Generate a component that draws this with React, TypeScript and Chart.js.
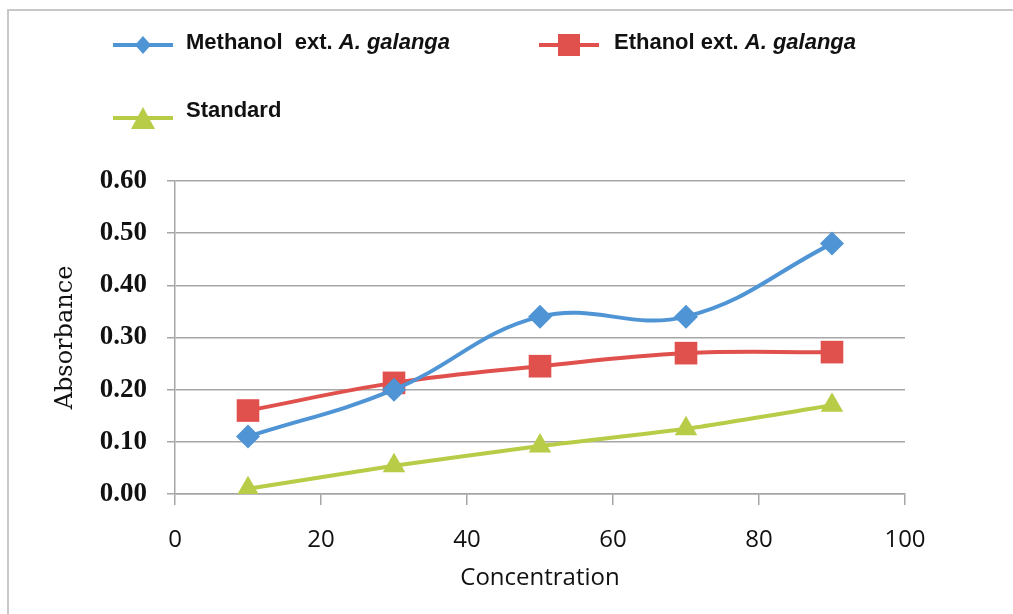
import React, { useEffect, useRef } from "react";
import { Chart, registerables } from "chart.js";

Chart.register(...registerables);

// ---- data ----
const concentrations = [10, 30, 50, 70, 90];
const methanolValues = [0.11, 0.2, 0.34, 0.34, 0.48];
const ethanolValues = [0.16, 0.213, 0.245, 0.27, 0.272];
const standardValues = [0.01, 0.054, 0.092, 0.125, 0.17];

const seriesNames = ["Methanol  ext. ", "Ethanol ext. ", "Standard"];
const seriesItalic = ["A. galanga", "A. galanga", ""];
const seriesColors = ["#4f94d4", "#e0504d", "#b9cc47"];
const seriesMarkers = ["rectRot", "rect", "triangle"];
const seriesMarkerRadius = [12, 16, 13];

const xTitle = "Concentration";
const yTitle = "Absorbance";
const xMin = 0;
const xMax = 100;
const xStep = 20;
const yMin = 0;
const yMax = 0.6;
const yStep = 0.1;

const GRID = "#a6a6a6";

function LegendMarker({ kind, color }: { kind: string; color: string }) {
  let shape: React.ReactNode = null;
  if (kind === "rectRot") {
    shape = <polygon points="30,1 38,10 30,19 22,10" fill={color} />;
  } else if (kind === "rect") {
    shape = <rect x={19} y={-1} width={22} height={22} fill={color} />;
  } else {
    shape = <polygon points="30,-1 42,21 18,21" fill={color} />;
  }
  return (
    <svg width={60} height={22} viewBox="0 0 60 22" style={{ display: "block", overflow: "visible" }}>
      <line x1={0} y1={10} x2={60} y2={10} stroke={color} strokeWidth={4} />
      {shape}
    </svg>
  );
}

const legendPos = [
  { left: 113, top: 35, textLeft: 186, textTop: 28 },
  { left: 539, top: 35, textLeft: 614, textTop: 28 },
  { left: 113, top: 108, textLeft: 186, textTop: 96 },
];

export default function App() {
  const canvasRef = useRef<HTMLCanvasElement | null>(null);

  useEffect(() => {
    const canvas = canvasRef.current;
    if (!canvas) return;
    const values = [methanolValues, ethanolValues, standardValues];
    const chart = new Chart(canvas, {
      type: "line",
      data: {
        datasets: values.map((vals, i) => ({
          label: seriesNames[i] + seriesItalic[i],
          data: concentrations.map((x, j) => ({ x, y: vals[j] })),
          borderColor: seriesColors[i],
          backgroundColor: seriesColors[i],
          borderWidth: 4,
          pointStyle: seriesMarkers[i] as any,
          pointRadius: seriesMarkerRadius[i],
          pointBorderWidth: 0,
          tension: i === 2 ? 0.2 : 0.4,
          fill: false,
        })),
      },
      options: {
        animation: false,
        responsive: false,
        maintainAspectRatio: false,
        devicePixelRatio: 1,
        layout: { padding: { left: 40, right: 108, top: 181, bottom: 20 } },
        plugins: {
          legend: { display: false },
          tooltip: { enabled: false },
        },
        scales: {
          x: {
            type: "linear",
            min: xMin,
            max: xMax,
            ticks: {
              stepSize: xStep,
              color: "#111111",
              padding: 21,
              maxRotation: 0,
              font: { family: "'Open Sans', sans-serif", size: 24 },
            },
            grid: {
              drawOnChartArea: false,
              drawTicks: true,
              tickLength: 11,
              color: GRID,
              lineWidth: 1.5,
            },
            border: { color: GRID, width: 1.5 },
            title: {
              display: true,
              text: xTitle,
              color: "#111111",
              font: { family: "'Open Sans', sans-serif", size: 24 },
              padding: { top: 0, bottom: 1 },
            },
            afterFit: (scale: any) => {
              scale.height = 100;
            },
          },
          y: {
            type: "linear",
            min: yMin,
            max: yMax,
            ticks: {
              stepSize: yStep,
              color: "#111111",
              padding: 20,
              font: { family: "'Liberation Serif', serif", size: 27, weight: "bold" },
              callback: (v: any) => Number(v).toFixed(2),
            },
            grid: {
              drawTicks: true,
              tickLength: 8,
              color: GRID,
              lineWidth: 1.5,
            },
            border: { color: GRID, width: 1.5 },
            title: {
              display: true,
              text: yTitle,
              color: "#111111",
              font: { family: "'DejaVu Serif', serif", size: 24 },
              padding: { top: 11, bottom: 0 },
            },
            afterFit: (scale: any) => {
              scale.width = 135;
            },
          },
        },
      },
    });
    return () => chart.destroy();
  }, []);

  return (
    <div
      style={{
        position: "fixed",
        left: 0,
        top: 0,
        width: 1013,
        height: 614,
        background: "#ffffff",
        overflow: "hidden",
      }}
    >
      <div
        style={{
          position: "absolute",
          left: 7,
          top: 9,
          width: 1013,
          height: 614,
          borderTop: "2px solid #c8c8c8",
          borderLeft: "2px solid #c8c8c8",
        }}
      />
      <canvas
        ref={canvasRef}
        width={1013}
        height={614}
        style={{ position: "absolute", left: 0, top: 0, width: 1013, height: 614 }}
      />
      {seriesNames.map((name, i) => (
        <React.Fragment key={i}>
          <div style={{ position: "absolute", left: legendPos[i].left, top: legendPos[i].top }}>
            <LegendMarker kind={seriesMarkers[i]} color={seriesColors[i]} />
          </div>
          <div
            style={{
              position: "absolute",
              left: legendPos[i].textLeft,
              top: legendPos[i].textTop,
              fontFamily: "'Liberation Sans', Arial, sans-serif",
              fontWeight: "bold",
              fontSize: 22,
              color: "#111111",
              whiteSpace: "pre",
              lineHeight: "28px",
            }}
          >
            {name}
            {seriesItalic[i] ? <i>{seriesItalic[i]}</i> : null}
          </div>
        </React.Fragment>
      ))}
    </div>
  );
}
